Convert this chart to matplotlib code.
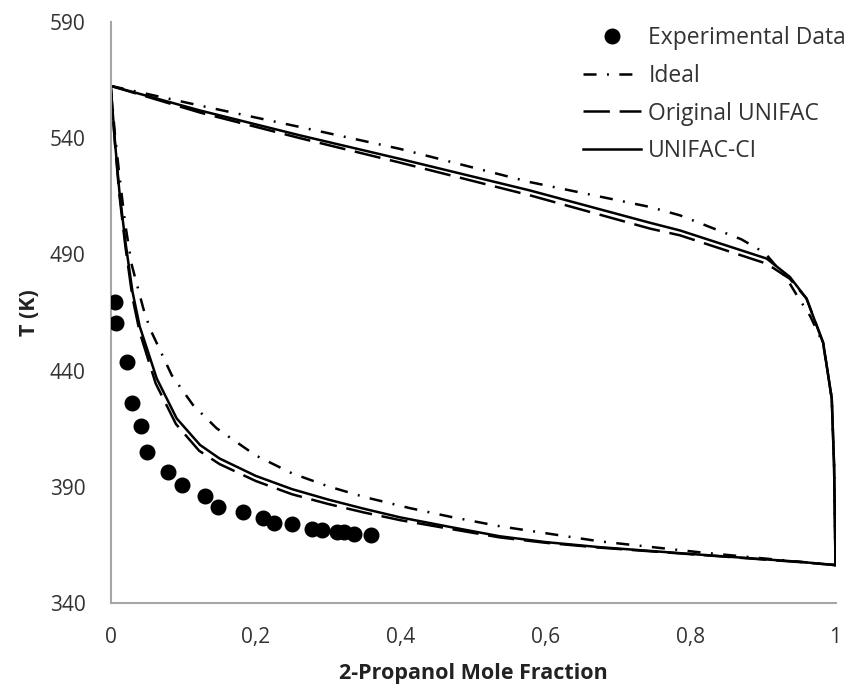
import matplotlib
matplotlib.use("Agg")
import matplotlib.pyplot as plt

plt.rcParams['font.family'] = ['Open Sans', 'DejaVu Sans']
plt.rcParams['lines.scale_dashes'] = False

# Experimental bubble-point data
exp_x = [0.006, 0.0073, 0.0225, 0.0294, 0.0418, 0.0501, 0.079, 0.0984, 0.130, 0.148,
         0.1825, 0.210, 0.2253, 0.250, 0.2777, 0.2915, 0.3122, 0.3219, 0.3357, 0.359]
exp_T = [469.7, 460.3, 443.9, 425.9, 416.0, 404.8, 396.2, 390.7, 385.9, 381.2,
         379.1, 376.5, 374.3, 373.9, 371.8, 371.4, 370.6, 370.6, 369.7, 369.2]

# Ideal model: bubble and dew curves
ideal_bub_x = [0.0, 0.006, 0.012, 0.020, 0.029, 0.045, 0.0542, 0.0842, 0.1135, 0.146,
               0.2, 0.25, 0.3, 0.35, 0.413, 0.47, 0.537, 0.675, 0.813, 0.9, 1.0]
ideal_bub_T = [562.5, 541.0, 524.0, 503.0, 485.5, 466.7, 458.0, 438.0, 425.2, 415.2,
               403.5, 395.8, 390.2, 385.6, 380.8, 377.0, 373.0, 366.5, 361.8, 359.2, 356.3]
ideal_dew_x = [0.0, 0.1235, 0.2613, 0.399, 0.5785, 0.744, 0.7854, 0.87, 0.9027, 0.9327,
               0.9465, 0.965, 0.983, 0.9948, 0.998, 1.0]
ideal_dew_T = [562.5, 554.0, 544.8, 535.4, 521.1, 510.4, 506.8, 496.5, 490.6, 479.6,
               472.5, 463.5, 451.5, 428.0, 399.4, 356.3]

# Original UNIFAC: bubble and dew curves
orig_bub_x = [0.0, 0.006, 0.012, 0.020, 0.030, 0.040, 0.062, 0.090, 0.122, 0.150,
              0.2, 0.25, 0.3, 0.35, 0.4, 0.47, 0.537, 0.6, 0.675, 0.813, 0.95, 1.0]
orig_bub_T = [562.5, 537.0, 515.5, 494.0, 471.5, 456.5, 434.5, 417.0, 405.5, 399.8,
              392.5, 386.8, 382.6, 378.9, 375.6, 371.8, 368.2, 365.9, 363.8, 360.7,
              357.6, 356.3]
orig_dew_x = [0.0, 0.1235, 0.2613, 0.399, 0.5785, 0.744, 0.7854, 0.905, 0.937, 0.960,
              0.983, 0.9948, 0.998, 1.0]
orig_dew_T = [562.5, 551.0, 540.0, 529.5, 515.4, 501.1, 498.2, 486.0, 479.5, 471.0,
              452.0, 428.0, 399.4, 356.3]

# UNIFAC-CI: bubble and dew curves
ci_bub_x = [0.0, 0.006, 0.012, 0.020, 0.030, 0.040, 0.0635, 0.091, 0.1232, 0.150,
            0.2, 0.25, 0.3, 0.35, 0.4, 0.47, 0.537, 0.6, 0.675, 0.813, 0.951, 1.0]
ci_bub_T = [562.5, 538.0, 517.0, 496.0, 474.0, 459.0, 436.6, 419.4, 408.0, 402.2,
            394.7, 389.0, 384.5, 380.5, 376.8, 372.6, 368.7, 366.2, 364.0, 360.8,
            357.7, 356.3]
ci_dew_x = [0.0, 0.1235, 0.2613, 0.399, 0.5785, 0.744, 0.7854, 0.905, 0.937, 0.960,
            0.983, 0.9948, 0.998, 1.0]
ci_dew_T = [562.5, 551.9, 541.2, 531.1, 517.5, 503.6, 500.3, 488.2, 480.3, 471.0,
            451.9, 428.0, 399.4, 356.3]

x_ticks = [0, 0.2, 0.4, 0.6, 0.8, 1]
x_tick_labels = ['0', '0,2', '0,4', '0,6', '0,8', '1']
y_ticks = [340, 390, 440, 490, 540, 590]

fig = plt.figure(figsize=(8.51, 6.87), dpi=100)
ax = fig.add_axes([0.1301, 0.1223, 0.8517, 0.8457])

lw = 1.8
ideal_ls = (0, (9.4, 7.5, 1.4, 7.5))
orig_ls = (0, (19, 7))

ax.plot(exp_x, exp_T, 'o', color='black', markersize=10.5, label='Experimental Data',
        zorder=5)
ax.plot(ideal_bub_x, ideal_bub_T, color='black', lw=lw, ls=ideal_ls, label='Ideal')
ax.plot(ideal_dew_x, ideal_dew_T, color='black', lw=lw, ls=ideal_ls)
ax.plot(orig_bub_x, orig_bub_T, color='black', lw=lw, ls=orig_ls, label='Original UNIFAC')
ax.plot(orig_dew_x, orig_dew_T, color='black', lw=lw, ls=orig_ls)
ax.plot(ci_bub_x, ci_bub_T, color='black', lw=lw, ls='-', label='UNIFAC-CI')
ax.plot(ci_dew_x, ci_dew_T, color='black', lw=lw, ls='-')

ax.set_xlim(0, 1)
ax.set_ylim(340, 590)
ax.set_xticks(x_ticks)
ax.set_xticklabels(x_tick_labels)
ax.set_yticks(y_ticks)
ax.tick_params(length=0, labelsize=15, colors='#333333')
ax.tick_params(axis='x', pad=17)
ax.tick_params(axis='y', pad=18)

for side in ['top', 'right']:
    ax.spines[side].set_visible(False)
for side in ['left', 'bottom']:
    ax.spines[side].set_color('#a6a6a6')
    ax.spines[side].set_linewidth(1.5)

ax.set_xlabel('2-Propanol Mole Fraction', fontsize=15.5, fontweight='bold', color='#222222',
              labelpad=11)
ax.set_ylabel('T (K)', fontsize=15.5, fontweight='bold', color='#222222', labelpad=7)

ax.legend(loc='upper left', bbox_to_anchor=(583 / 851, 1 - 26 / 687),
          bbox_transform=fig.transFigure, frameon=False, fontsize=16.5,
          borderaxespad=0, borderpad=0,
          handlelength=2.55, handletextpad=0.3, labelspacing=0.6, labelcolor='#333333')

fig.savefig('out.png', dpi=100)
